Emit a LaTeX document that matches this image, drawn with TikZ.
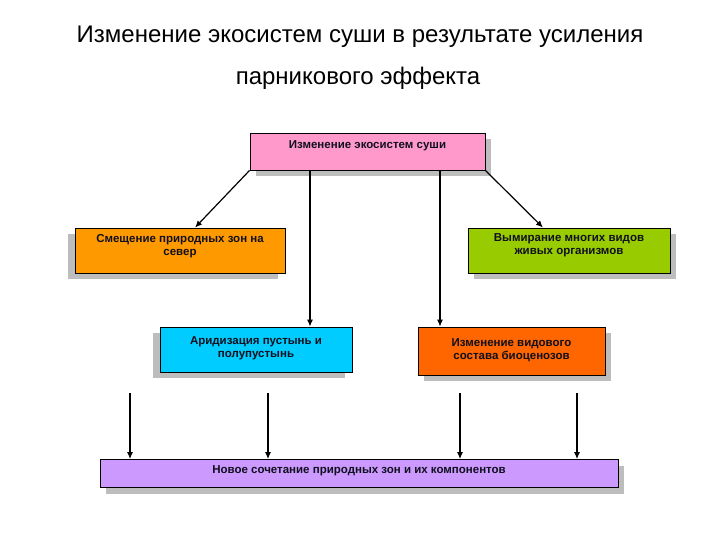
\documentclass[tikz,border=0pt]{standalone}
\usepackage{fontspec}
\setmainfont{Liberation Sans}
\usepackage{tikz}
\usetikzlibrary{positioning, shadows, arrows.meta, calc}
\definecolor{pinkbox}{HTML}{FF99CC}
\definecolor{orangebox}{HTML}{FF9900}
\definecolor{greenbox}{HTML}{99CC00}
\definecolor{cyanbox}{HTML}{00CCFF}
\definecolor{redbox}{HTML}{FF6600}
\definecolor{violetbox}{HTML}{CC99FF}
\definecolor{shadowgray}{HTML}{BDBDBD}
\definecolor{textdark}{HTML}{10101E}

\begin{document}
\begin{tikzpicture}[x=1pt, y=-1pt,
		zone/.style={draw=black, line width=0.8pt, align=center, inner sep=0pt,
			text=textdark, font=\fontsize{11.5}{13}\selectfont\bfseries},
		shadowR/.style={drop shadow={shadow xshift=6pt, shadow yshift=-6pt, fill=shadowgray, opacity=1}},
		shadowL/.style={drop shadow={shadow xshift=-7pt, shadow yshift=-6pt, fill=shadowgray, opacity=1}},
		arr/.style={-{Latex[length=7pt, width=6pt]}, line width=1.2pt}]
	\useasboundingbox (0,0) rectangle (720,540);
	\fill[white] (0,0) rectangle (720,540);

	% title
	\node[anchor=base, font=\fontsize{24}{28}\selectfont] (title1) at (360,43) {Изменение экосистем суши в результате усиления};
	\node[anchor=base, font=\fontsize{24}{28}\selectfont] (title2) at (358,85) {парникового эффекта};

	% boxes
	\node[zone, shadowR, fill=pinkbox, minimum width=235, minimum height=37, text depth=14.5pt] (land) at (367.5,151.5) {Изменение экосистем суши};
	\node[zone, shadowL, fill=orangebox, minimum width=210, minimum height=45, text depth=10.5pt] (shift) at (180,250.5) {Смещение природных зон на\\север};
	\node[zone, shadowR, fill=greenbox, minimum width=202, minimum height=45, text depth=12pt] (extinct) at (569,250.5) {Вымирание многих видов\\живых организмов};
	\node[zone, shadowL, fill=cyanbox, minimum width=192, minimum height=45, text depth=4.5pt] (arid) at (256,349.5) {Аридизация пустынь и\\полупустынь};
	\node[zone, shadowR, fill=redbox, minimum width=187, minimum height=48, text depth=3.5pt] (species) at (511.5,351) {Изменение видового\\состава биоценозов};
	\node[zone, shadowR, fill=violetbox, minimum width=518, minimum height=28, text depth=8.5pt] (combo) at (359,473.5) {Новое сочетание природных зон и их компонентов};

	% arrows from the top box
	\draw[arr] (land.south west) -- ([xshift=15pt]shift.north);
	\draw[arr] (land.south east) -- ([xshift=-26pt]extinct.north);
	\draw[arr] (land.south -| 310,0) -- (arid.north -| 310,0);
	\draw[arr] (land.south -| 440,0) -- (species.north -| 440,0);

	% arrows into the bottom box
	\foreach \x in {130,268,460,577}
		\draw[arr] (\x,393) -- (\x,0 |- combo.north);
\end{tikzpicture}
\end{document}
